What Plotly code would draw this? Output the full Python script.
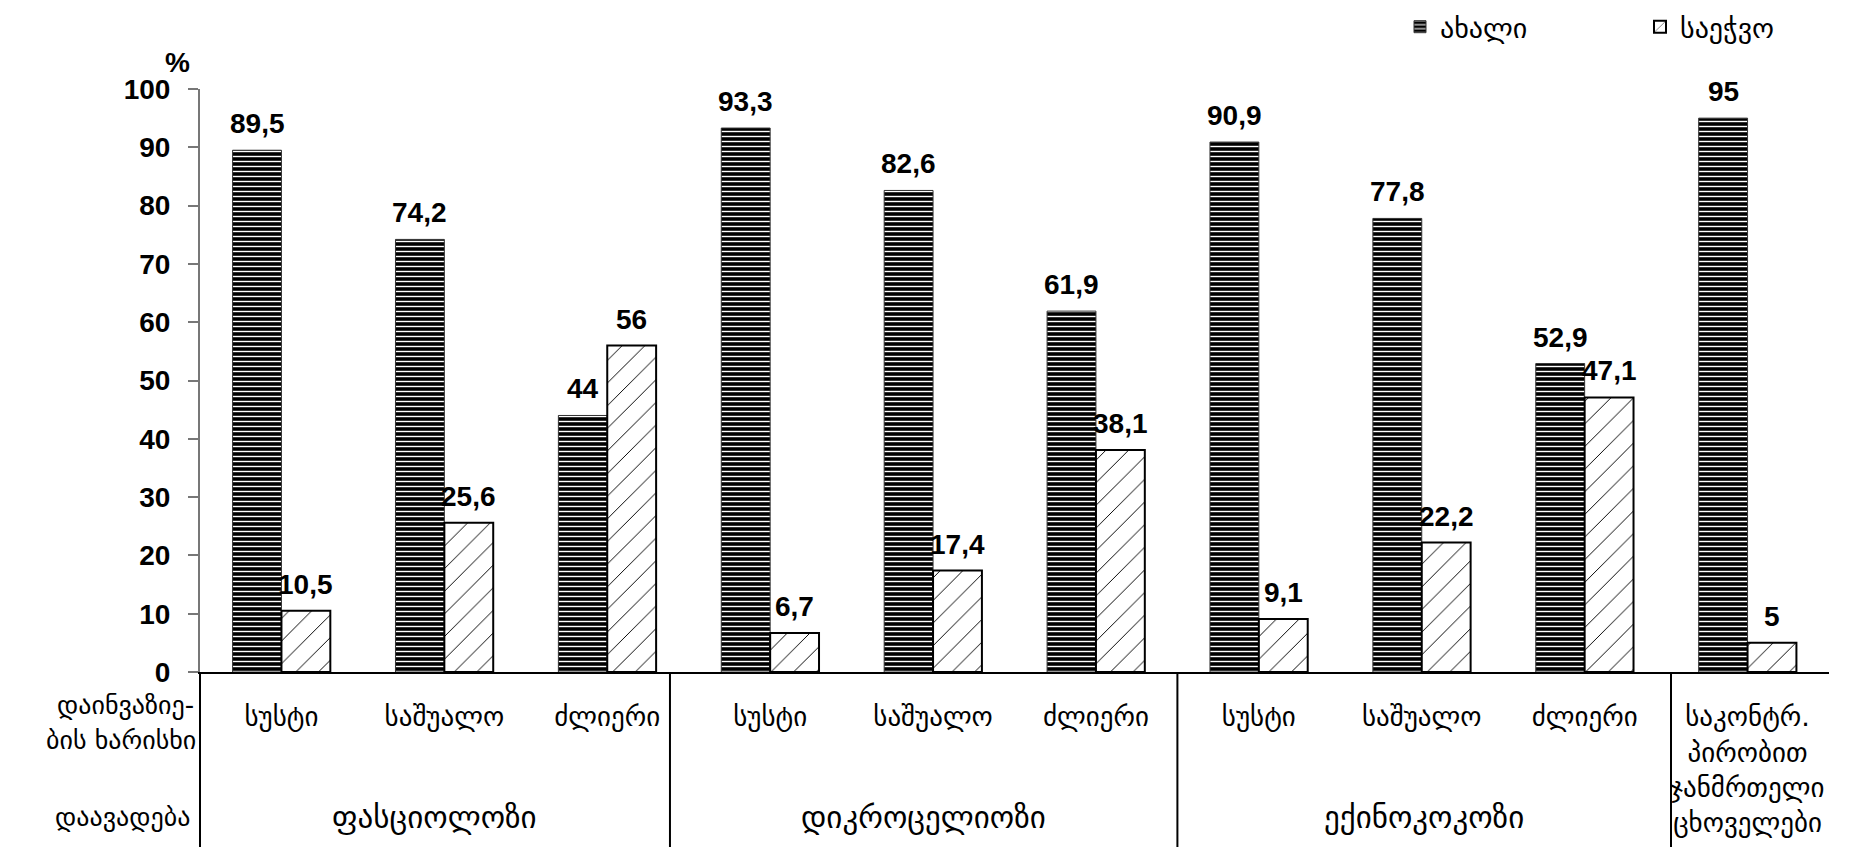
import plotly.graph_objects as go

# Infection intensity categories and their disease groups
categories = ["სუსტი", "საშუალო", "ძლიერი",
              "სუსტი", "საშუალო", "ძლიერი",
              "სუსტი", "საშუალო", "ძლიერი",
              "საკონტრ.<br>პირობით<br>ჯანმრთელი<br>ცხოველები"]
diseases = ["ფასციოლოზი", "დიკროცელიოზი", "ექინოკოკოზი"]

series_names = ["ახალი", "საეჭვო"]
values_new = [89.5, 74.2, 44, 93.3, 82.6, 61.9, 90.9, 77.8, 52.9, 95]
values_doubtful = [10.5, 25.6, 56, 6.7, 17.4, 38.1, 9.1, 22.2, 47.1, 5]

y_ticks = [0, 10, 20, 30, 40, 50, 60, 70, 80, 90, 100]

# Page geometry
W, H = 1872, 847
ML, MR, MT, MB = 200, 43, 89, 175
plot_w = W - ML - MR
plot_h = H - MT - MB
cat_px = plot_w / len(categories)
BARGAP = 0.4
bar_px = cat_px * (1 - BARGAP) / 2

GEO = "DejaVu Sans"
NUM = "Liberation Sans, Arial"

x = list(range(len(categories)))


def fmt(v):
    return f"{v:g}".replace(".", ",")


fig = go.Figure()
fig.add_trace(go.Bar(
    name=series_names[0], x=x, y=values_new,
    marker=dict(color="black",
                line=dict(color="#333333", width=1),
                pattern=dict(shape="-", fgcolor="white", bgcolor="black",
                             size=5, solidity=0.28, fillmode="replace")),
))
fig.add_trace(go.Bar(
    name=series_names[1], x=x, y=values_doubtful,
    marker=dict(color="white",
                line=dict(color="black", width=2),
                pattern=dict(shape="/", fgcolor="black", bgcolor="white",
                             size=16, solidity=0.06, fillmode="replace")),
))

annotations = []
# value labels above each bar
for i, (a, b) in enumerate(zip(values_new, values_doubtful)):
    for v, sh in ((a, -bar_px / 2), (b, bar_px / 2)):
        annotations.append(dict(
            x=i, y=v, xref="x", yref="y", text=fmt(v), showarrow=False,
            xanchor="center", yanchor="bottom", xshift=sh, yshift=9,
            font=dict(family=NUM, size=28, color="black", weight="bold")))

# "%" unit above the value axis
annotations.append(dict(x=-23 / plot_w, y=1 + 26 / plot_h, xref="paper", yref="paper",
                        text="%", showarrow=False, xanchor="center", yanchor="middle",
                        font=dict(family=NUM, size=28, color="black", weight="bold")))

# Row headings on the left of the category table
row_font = dict(family=GEO, size=26, color="black")
annotations.append(dict(x=0, y=-33 / plot_h, xref="paper", yref="paper",
                        text="დაინვაზიე-", showarrow=False, xanchor="right",
                        yanchor="middle", xshift=-4, font=row_font))
annotations.append(dict(x=0, y=-68 / plot_h, xref="paper", yref="paper",
                        text="ბის ხარისხი", showarrow=False, xanchor="right",
                        yanchor="middle", xshift=-2, font=row_font))
annotations.append(dict(x=0, y=-145 / plot_h, xref="paper", yref="paper",
                        text="დაავადება", showarrow=False, xanchor="right",
                        yanchor="middle", xshift=-8, font=row_font))

# Section dividers in the category table (in category units)
dividers = [2.385, 5.5, 8.53]
bounds = [-0.5] + dividers
y_bottom = -MB / plot_h

shapes = [dict(type="line", xref="paper", yref="paper", x0=0, x1=0,
               y0=0, y1=y_bottom, line=dict(color="black", width=2))]
for d in dividers:
    px = (d + 0.5) / len(categories)
    shapes.append(dict(type="line", xref="paper", yref="paper", x0=px, x1=px,
                       y0=0, y1=y_bottom, line=dict(color="black", width=2)))

for name, lo, hi in zip(diseases, bounds[:-1], bounds[1:]):
    mid = ((lo + hi) / 2 + 0.5) / len(categories)
    annotations.append(dict(x=mid, y=-145 / plot_h, xref="paper", yref="paper",
                            text=name, showarrow=False, xanchor="center",
                            yanchor="middle",
                            font=dict(family=GEO, size=31, color="black")))

fig.update_layout(
    width=W, height=H,
    margin=dict(l=ML, r=MR, t=MT, b=MB, autoexpand=False),
    paper_bgcolor="white", plot_bgcolor="white",
    barmode="group", bargap=BARGAP, bargroupgap=0,
    showlegend=True,
    legend=dict(orientation="h", x=(1400 - ML) / plot_w, y=1 + (MT - 2) / plot_h,
                xanchor="left", yanchor="top", entrywidth=195,
                font=dict(family=GEO, size=28, color="black"),
                bgcolor="rgba(0,0,0,0)", itemclick=False),
    xaxis=dict(range=[-0.5, len(categories) - 0.5], tickmode="array",
               tickvals=x, ticktext=categories, ticks="", showgrid=False,
               showline=True, linecolor="black", linewidth=2,
               ticklabelstandoff=20,
               tickfont=dict(family=GEO, size=27, color="black")),
    yaxis=dict(range=[0, 100], tickmode="array", tickvals=y_ticks,
               ticks="outside", ticklen=10, tickwidth=2, tickcolor="#777777",
               showline=True, linecolor="#777777", linewidth=2,
               showgrid=False, zeroline=False, ticklabelstandoff=12,
               tickfont=dict(family=NUM, size=28, color="black", weight="bold")),
    annotations=annotations,
    shapes=shapes,
)

fig.write_html("out.html")
